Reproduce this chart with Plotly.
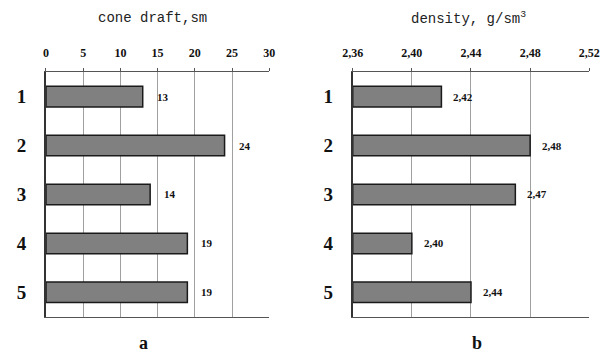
import plotly.graph_objects as go

categories = ["1", "2", "3", "4", "5"]
cone_draft = [13, 24, 14, 19, 19]
density = [2.42, 2.48, 2.47, 2.40, 2.44]

draft_ticks = [0, 5, 10, 15, 20, 25, 30]
density_ticks = [2.36, 2.40, 2.44, 2.48, 2.52]

serif = "Liberation Serif"
mono = "Liberation Mono"

positions = list(range(1, len(categories) + 1))
density_base = density_ticks[0]

bar_style = dict(color="#808080", line=dict(color="#1a1a1a", width=1.5))

fig = go.Figure()
fig.add_trace(go.Bar(
    x=cone_draft, y=positions, orientation="h", xaxis="x", yaxis="y",
    marker=bar_style, width=0.42, showlegend=False,
))
fig.add_trace(go.Bar(
    x=[v - density_base for v in density], y=positions, base=density_base,
    orientation="h", xaxis="x2", yaxis="y2",
    marker=bar_style, width=0.42, showlegend=False,
))

label_font = dict(family=serif, size=11, color="#111")
annotations = []
for p, v in zip(positions, cone_draft):
    annotations.append(dict(
        x=v, y=p, xref="x", yref="y", text=f"<b>{v}</b>", showarrow=False,
        xanchor="left", xshift=12, font=label_font,
    ))
for p, v in zip(positions, density):
    annotations.append(dict(
        x=v, y=p, xref="x2", yref="y2", text="<b>" + f"{v:.2f}".replace(".", ",") + "</b>",
        showarrow=False, xanchor="left", xshift=10, font=label_font,
    ))

title_font = dict(family=mono, size=14, color="#222")
panel_font = dict(family=serif, size=18, color="#111")
annotations += [
    dict(x=0.252, y=0.948, xref="paper", yref="paper", text="cone draft,sm",
         xanchor="center", yanchor="middle", showarrow=False, font=title_font),
    dict(x=0.774, y=0.948, xref="paper", yref="paper", text="density, g/sm<sup>3</sup>",
         xanchor="center", yanchor="middle", showarrow=False, font=title_font),
    dict(x=0.238, y=0.026, xref="paper", yref="paper", text="<b>a</b>",
         xanchor="center", yanchor="middle", showarrow=False, font=panel_font),
    dict(x=0.789, y=0.026, xref="paper", yref="paper", text="<b>b</b>",
         xanchor="center", yanchor="middle", showarrow=False, font=panel_font),
]

common_x = dict(
    side="top", showgrid=True, gridcolor="#a0a0a0", gridwidth=1,
    showline=True, linecolor="#555", linewidth=1, mirror=True,
    ticks="outside", ticklen=3, tickcolor="#555",
    tickfont=dict(family=serif, size=12, color="#111"),
    ticklabelstandoff=6,
    zeroline=False, fixedrange=True, automargin=False,
)
common_y = dict(
    range=[5.5, 0.5], showgrid=False, zeroline=False,
    showline=True, linecolor="#333", linewidth=2,
    ticks="", tickfont=dict(family=serif, size=19, color="#111"),
    tickvals=positions, ticktext=[f"<b>{c}</b>" for c in categories],
    ticklabelstandoff=14, fixedrange=True, automargin=False,
)

fig.update_layout(
    width=605, height=352,
    margin=dict(l=0, r=0, t=0, b=0),
    paper_bgcolor="white", plot_bgcolor="white",
    xaxis=dict(domain=[0.076, 0.445], range=[0, 30], tickvals=draft_ticks,
               ticktext=[f"<b>{t}</b>" for t in draft_ticks], anchor="y", **common_x),
    yaxis=dict(domain=[0.10, 0.795], anchor="x", **common_y),
    xaxis2=dict(domain=[0.583, 0.974], range=[density_ticks[0], density_ticks[-1]],
                tickvals=density_ticks,
                ticktext=["<b>" + f"{t:.2f}".replace(".", ",") + "</b>" for t in density_ticks],
                anchor="y2", **common_x),
    yaxis2=dict(domain=[0.10, 0.795], anchor="x2", **common_y),
    annotations=annotations,
)

fig.write_html("out.html")
